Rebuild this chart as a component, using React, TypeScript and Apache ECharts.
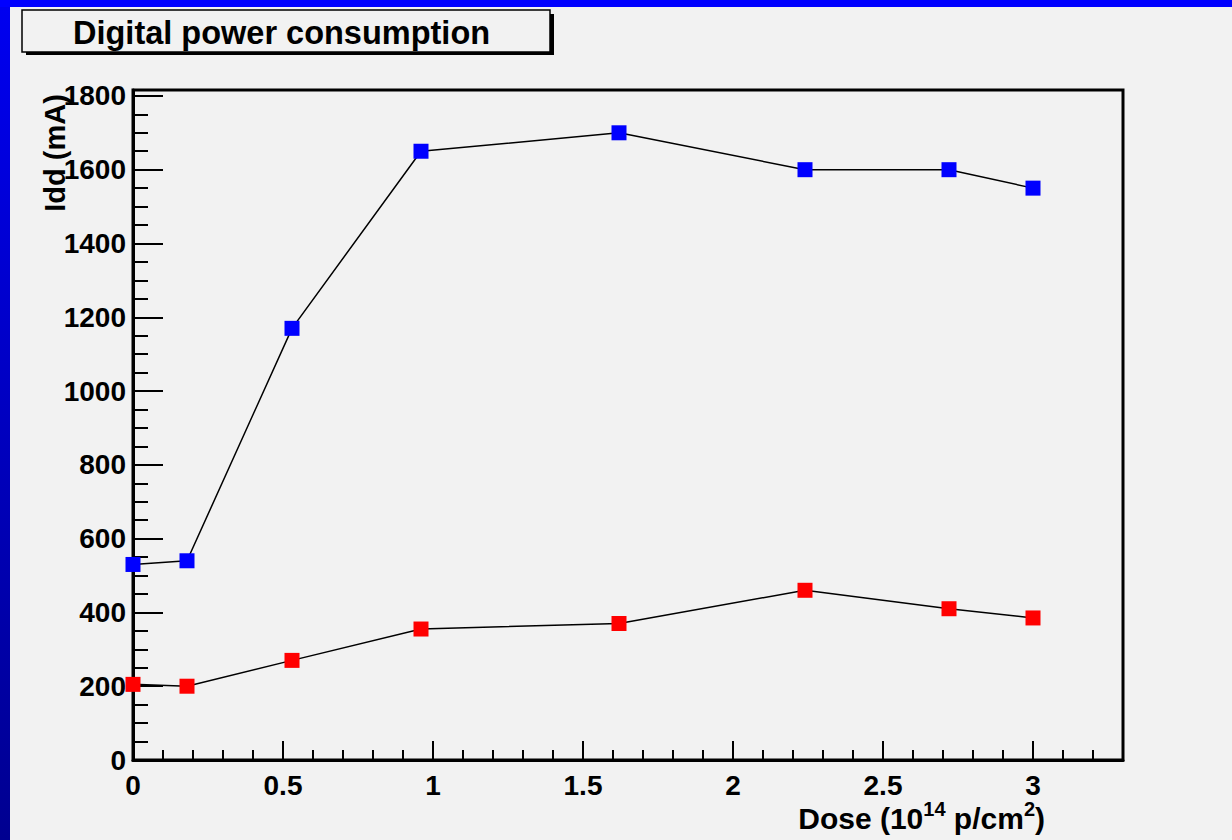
import React, { useEffect, useRef } from "react";
import * as echarts from "echarts";

// ---- data ----
const titleText = "Digital power consumption";
const xTitleRich = "{a|Dose (10}{s|14}{a| p/cm}{s|2}{a|)}";
const yTitleText = "Idd (mA)";
const doses = [0, 0.18, 0.53, 0.96, 1.62, 2.24, 2.72, 3.0];
const blueIdd = [530, 540, 1170, 1650, 1700, 1600, 1600, 1550];
const redIdd = [205, 200, 270, 355, 370, 460, 410, 385];
const xMin = 0;
const xMax = 3.3;
const xMajor = 0.5;
const xMinor = 0.1;
const yMin = 0;
const yMax = 1816;
const yMajor = 200;
const yMinor = 50;

const FONT = "'Liberation Sans', Arial, Helvetica, sans-serif";

function isMultiple(v: number, step: number) {
  const r = v / step;
  return Math.abs(r - Math.round(r)) < 1e-6;
}

export default function App() {
  const ref = useRef<HTMLDivElement>(null);

  useEffect(() => {
    if (!ref.current) return;
    const chart = echarts.init(ref.current, null, { renderer: "svg" });

    const grid = { left: 133, top: 90, width: 990, height: 670 };

    const tickStyle = { color: "#000", width: 2 };

    const option: any = {
      animation: false,
      backgroundColor: "#f2f2f2",
      grid: {
        ...grid,
        show: true,
        borderColor: "#000",
        borderWidth: 3,
        backgroundColor: "transparent",
      },
      xAxis: [
        {
          type: "value",
          min: xMin,
          max: xMax,
          interval: xMajor,
          position: "bottom",
          axisLine: { show: true, onZero: false, lineStyle: { color: "#000", width: 3 } },
          axisTick: { show: true, inside: true, length: 19, lineStyle: tickStyle },
          splitLine: { show: false },
          axisLabel: {
            color: "#000",
            fontFamily: FONT,
            fontWeight: "bold",
            fontSize: 28,
            margin: 11,
            formatter: (v: number) => (isMultiple(v, xMajor) ? String(v) : ""),
          },
        },
        {
          type: "value",
          min: xMin,
          max: xMax,
          interval: xMinor,
          position: "bottom",
          axisLine: { show: false },
          axisTick: { show: true, inside: true, length: 10, lineStyle: tickStyle },
          splitLine: { show: false },
          axisLabel: { show: false },
        },
      ],
      yAxis: [
        {
          type: "value",
          min: yMin,
          max: yMax,
          interval: yMajor,
          position: "left",
          axisLine: { show: true, onZero: false, lineStyle: { color: "#000", width: 3 } },
          axisTick: { show: true, inside: true, length: 30, lineStyle: tickStyle },
          splitLine: { show: false },
          axisLabel: {
            color: "#000",
            fontFamily: FONT,
            fontWeight: "bold",
            fontSize: 28,
            margin: 7,
            formatter: (v: number) => (isMultiple(v, yMajor) ? String(v) : ""),
          },
        },
        {
          type: "value",
          min: yMin,
          max: yMax,
          interval: yMinor,
          position: "left",
          axisLine: { show: false },
          axisTick: { show: true, inside: true, length: 15, lineStyle: tickStyle },
          splitLine: { show: false },
          axisLabel: { show: false },
        },
      ],
      series: [
        {
          type: "line",
          xAxisIndex: 0,
          yAxisIndex: 0,
          data: doses.map((d, i) => [d, blueIdd[i]]),
          symbol: "rect",
          symbolSize: 15,
          clip: false,
          itemStyle: { color: "#0000ff" },
          lineStyle: { color: "#000", width: 1.5 },
          z: 5,
        },
        {
          type: "line",
          xAxisIndex: 0,
          yAxisIndex: 0,
          data: doses.map((d, i) => [d, redIdd[i]]),
          symbol: "rect",
          symbolSize: 15,
          clip: false,
          itemStyle: { color: "#ff0000" },
          lineStyle: { color: "#000", width: 1.5 },
          z: 5,
        },
      ],
      graphic: [
        // blue canvas edges
        {
          type: "rect",
          z: 100,
          shape: { x: 0, y: 0, width: 10, height: 840 },
          style: {
            fill: new echarts.graphic.LinearGradient(0, 0, 0, 1, [
              { offset: 0, color: "#0000f0" },
              { offset: 1, color: "#000090" },
            ]),
          },
        },
        {
          type: "rect",
          z: 101,
          shape: { x: 0, y: 0, width: 1232, height: 7 },
          style: { fill: "#0000ff" },
        },
        // title box shadow + box
        {
          type: "rect",
          z: 100,
          shape: { x: 26, y: 14, width: 528, height: 41 },
          style: { fill: "#000" },
        },
        {
          type: "rect",
          z: 101,
          shape: { x: 22, y: 10, width: 528, height: 42 },
          style: { fill: "#f2f2f2", stroke: "#000", lineWidth: 1.5 },
        },
        {
          type: "text",
          z: 102,
          style: {
            text: titleText,
            x: 73,
            y: 33,
            align: "left",
            verticalAlign: "middle",
            fill: "#000",
            fontFamily: FONT,
            fontWeight: "bold",
            fontSize: 32.5,
          },
        },
        // y title
        {
          type: "text",
          z: 102,
          x: 55,
          y: 153,
          rotation: Math.PI / 2,
          style: {
            text: yTitleText,
            x: 0,
            y: 0,
            align: "center",
            verticalAlign: "middle",
            fill: "#000",
            fontFamily: FONT,
            fontWeight: "bold",
            fontSize: 29,
          },
        },
        // x title
        {
          type: "text",
          z: 102,
          style: {
            text: xTitleRich,
            x: 1045,
            y: 816,
            align: "right",
            verticalAlign: "middle",
            fill: "#000",
            rich: {
              a: {
                fontFamily: FONT,
                fontWeight: "bold",
                fontSize: 30,
                lineHeight: 34,
                verticalAlign: "bottom",
                fill: "#000",
              },
              s: {
                fontFamily: FONT,
                fontWeight: "bold",
                fontSize: 20,
                lineHeight: 10,
                verticalAlign: "top",
                fill: "#000",
              },
            },
          },
        },
      ],
    };

    chart.setOption(option);
    return () => {
      chart.dispose();
    };
  }, []);

  return (
    <div
      ref={ref}
      style={{ position: "fixed", left: 0, top: 0, width: 1232, height: 840 }}
    />
  );
}
